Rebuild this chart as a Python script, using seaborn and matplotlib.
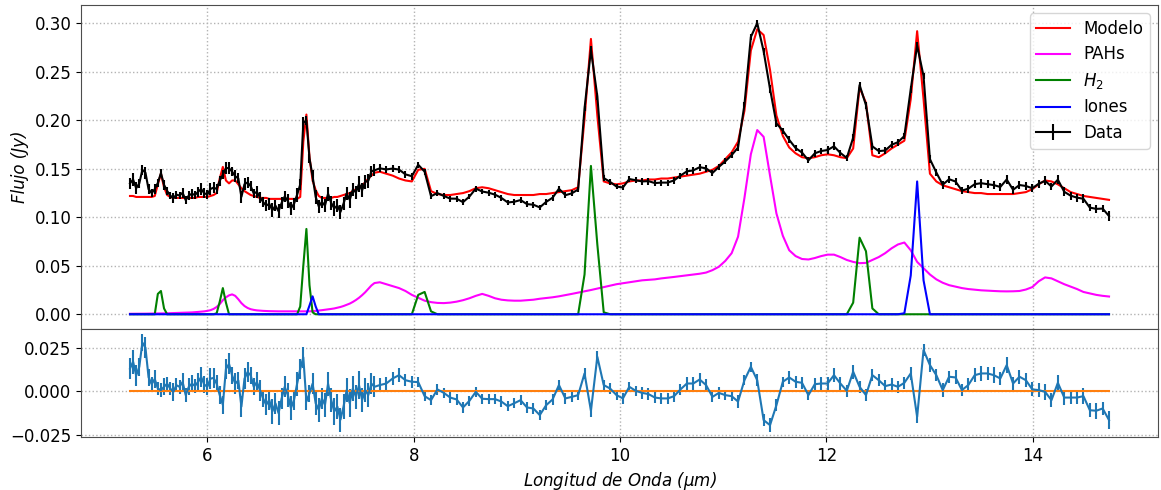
import numpy as np
import matplotlib
matplotlib.use("Agg")
import matplotlib.pyplot as plt
import seaborn as sns

# ---------------------------------------------------------------
# Spectrum: short-wavelength order (fine sampling) and long order
# ---------------------------------------------------------------
wave_sl2 = [
    5.25, 5.28, 5.31, 5.34, 5.37, 5.40, 5.43, 5.46, 5.49, 5.52,
    5.55, 5.58, 5.61, 5.64, 5.67, 5.70, 5.73, 5.76, 5.79, 5.82,
    5.85, 5.88, 5.91, 5.94, 5.97, 6.00, 6.03, 6.06, 6.09, 6.12,
    6.15, 6.18, 6.21, 6.24, 6.27, 6.30, 6.33, 6.36, 6.39, 6.42,
    6.45, 6.48, 6.51, 6.54, 6.57, 6.60, 6.63, 6.66, 6.69, 6.72,
    6.75, 6.78, 6.81, 6.84, 6.87, 6.90, 6.93, 6.96, 6.99, 7.02,
    7.05, 7.08, 7.11, 7.14, 7.17, 7.20, 7.23, 7.26, 7.29, 7.32,
    7.35, 7.38, 7.41, 7.44, 7.47, 7.50, 7.53, 7.56, 7.59, 7.62,
]
wave_sl1 = [
    7.672, 7.734, 7.796, 7.858, 7.920, 7.982, 8.044, 8.106, 8.168, 8.230,
    8.292, 8.354, 8.416, 8.478, 8.540, 8.602, 8.664, 8.726, 8.788, 8.850,
    8.912, 8.974, 9.036, 9.098, 9.160, 9.222, 9.284, 9.346, 9.408, 9.470,
    9.532, 9.594, 9.656, 9.718, 9.780, 9.842, 9.904, 9.966, 10.028, 10.090,
    10.152, 10.214, 10.276, 10.338, 10.400, 10.462, 10.524, 10.586, 10.648, 10.710,
    10.772, 10.834, 10.896, 10.958, 11.020, 11.082, 11.144, 11.206, 11.268, 11.330,
    11.392, 11.454, 11.516, 11.578, 11.640, 11.702, 11.764, 11.826, 11.888, 11.950,
    12.012, 12.074, 12.136, 12.198, 12.260, 12.322, 12.384, 12.446, 12.508, 12.570,
    12.632, 12.694, 12.756, 12.818, 12.880, 12.942, 13.004, 13.066, 13.128, 13.190,
    13.252, 13.314, 13.376, 13.438, 13.500, 13.562, 13.624, 13.686, 13.748, 13.810,
    13.872, 13.934, 13.996, 14.058, 14.120, 14.182, 14.244, 14.306, 14.368, 14.430,
    14.492, 14.554, 14.616, 14.678, 14.740,
]

# Best-fit model (Jy)
model_sl2 = [
    0.122, 0.122, 0.121, 0.121, 0.121, 0.121, 0.121, 0.121, 0.122, 0.134,
    0.145, 0.131, 0.123, 0.121, 0.120, 0.120, 0.120, 0.120, 0.120, 0.120,
    0.120, 0.120, 0.121, 0.121, 0.121, 0.121, 0.122, 0.123, 0.125, 0.140,
    0.152, 0.138, 0.135, 0.138, 0.138, 0.134, 0.130, 0.127, 0.125, 0.123,
    0.122, 0.121, 0.120, 0.120, 0.120, 0.119, 0.119, 0.119, 0.119, 0.119,
    0.119, 0.119, 0.119, 0.119, 0.119, 0.121, 0.178, 0.206, 0.162, 0.138,
    0.128, 0.122, 0.120, 0.120, 0.120, 0.120, 0.121, 0.121, 0.122, 0.123,
    0.124, 0.125, 0.127, 0.129, 0.131, 0.133, 0.136, 0.140, 0.143, 0.146,
]
model_sl1 = [
    0.147, 0.145, 0.143, 0.140, 0.138, 0.137, 0.149, 0.150, 0.127, 0.124,
    0.123, 0.123, 0.124, 0.125, 0.127, 0.130, 0.131, 0.130, 0.128, 0.126,
    0.124, 0.123, 0.123, 0.123, 0.123, 0.124, 0.124, 0.125, 0.126, 0.127,
    0.128, 0.131, 0.202, 0.284, 0.205, 0.137, 0.135, 0.134, 0.135, 0.137,
    0.138, 0.138, 0.139, 0.139, 0.140, 0.140, 0.141, 0.142, 0.143, 0.144,
    0.145, 0.147, 0.149, 0.153, 0.160, 0.167, 0.178, 0.210, 0.272, 0.294,
    0.288, 0.252, 0.205, 0.184, 0.172, 0.166, 0.162, 0.161, 0.162, 0.164,
    0.165, 0.164, 0.162, 0.161, 0.171, 0.234, 0.218, 0.164, 0.162, 0.166,
    0.171, 0.175, 0.179, 0.222, 0.292, 0.222, 0.145, 0.137, 0.133, 0.131,
    0.129, 0.127, 0.126, 0.125, 0.125, 0.124, 0.124, 0.124, 0.124, 0.124,
    0.125, 0.126, 0.129, 0.134, 0.138, 0.137, 0.134, 0.130, 0.126, 0.124,
    0.122, 0.121, 0.120, 0.119, 0.118,
]

# Fit residuals (data - model, Jy)
resid_sl2 = [
    0.013, 0.017, 0.009, 0.014, 0.028, 0.025, 0.008, 0.004, 0.007, 0.0015,
    0.0006, 0.0025, 0.0043, 0.0015, -0.0004, 0.0034, 0.0025, 0.0053, -0.0023, 0.0025,
    0.0043, 0.0030, 0.0053, 0.0081, 0.0038, 0.0025, 0.0072, 0.0076, 0.0043, -0.0023,
    -0.0079, 0.0128, 0.0157, 0.0091, 0.0043, 0.0062, -0.0089, 0.0072, 0.0110, 0.0091,
    0.0025, 0.0053, 0.0006, -0.0042, -0.0079, -0.0051, -0.0117, -0.0070, -0.0127, -0.0042,
    0.0025, -0.0023, -0.0098, -0.0051, 0.0043, 0.0128, 0.0195, -0.0060, -0.0013, 0.0043,
    -0.0070, -0.0108, -0.0042, -0.0079, 0.0043, -0.0051, -0.0117, -0.0089, -0.0165, -0.0089,
    0.0006, -0.0070, 0.0015, -0.0032, 0.0034, -0.0051, 0.0006, -0.0023, 0.0043, 0.0025,
]
resid_sl1 = [
    0.0035, 0.0044, 0.0073, 0.0092, 0.0063, 0.0054, 0.0052, -0.0029, -0.0052, 0.0010,
    -0.0010, -0.0037, -0.0048, -0.0094, -0.0056, -0.0004, -0.0044, -0.0046, -0.0046, -0.0060,
    -0.0087, -0.0070, -0.0052, -0.0094, -0.0100, -0.0138, -0.0081, -0.0048, 0.0035, -0.0042,
    -0.0033, -0.0023, 0.0102, -0.0113, 0.0198, 0.0035, 0.0015, -0.0023, -0.0042, 0.0025,
    0.0002, -0.0010, -0.0017, -0.0037, -0.0042, -0.0042, -0.0029, 0.0010, 0.0044, 0.0044,
    0.0067, 0.0035, -0.0033, -0.0010, -0.0023, -0.0029, -0.0060, 0.0063, 0.0140, 0.0063,
    -0.0167, -0.0196, -0.0081, 0.0054, 0.0079, 0.0054, 0.0048, -0.0023, 0.0040, 0.0044,
    0.0044, 0.0092, 0.0044, 0.0002, 0.0112, 0.0025, -0.0023, 0.0092, 0.0063, 0.0029,
    0.0038, 0.0025, 0.0048, 0.0102, -0.0148, 0.0237, 0.0150, 0.0092, 0.0006, 0.0083,
    0.0079, 0.0006, 0.0035, 0.0092, 0.0102, 0.0102, 0.0092, 0.0073, 0.0150, 0.0044,
    0.0083, 0.0063, 0.0010, 0.0006, -0.0004, -0.0052, 0.0048, -0.0037, -0.0037, -0.0037,
    -0.0029, -0.0110, -0.0113, -0.0100, -0.0167,
]

# 1-sigma flux uncertainties (Jy)
err_sl2 = [
    0.006, 0.007, 0.006, 0.005, 0.005, 0.006, 0.005, 0.004, 0.005, 0.004,
    0.004, 0.005, 0.004, 0.004, 0.005, 0.004, 0.004, 0.005, 0.004, 0.005,
    0.005, 0.004, 0.005, 0.006, 0.005, 0.005, 0.006, 0.006, 0.005, 0.005,
    0.005, 0.006, 0.006, 0.005, 0.006, 0.005, 0.006, 0.006, 0.006, 0.005,
    0.005, 0.006, 0.006, 0.005, 0.006, 0.006, 0.007, 0.006, 0.007, 0.006,
    0.006, 0.007, 0.007, 0.006, 0.007, 0.006, 0.006, 0.005, 0.005, 0.006,
    0.007, 0.007, 0.006, 0.007, 0.007, 0.007, 0.008, 0.007, 0.007, 0.007,
    0.007, 0.008, 0.007, 0.007, 0.008, 0.007, 0.007, 0.007, 0.006, 0.006,
]
err_sl1 = [
    0.0040, 0.0035, 0.0035, 0.0040, 0.0035, 0.0035, 0.0030, 0.0030, 0.0030, 0.0030,
    0.0030, 0.0030, 0.0030, 0.0030, 0.0030, 0.0030, 0.0030, 0.0030, 0.0030, 0.0030,
    0.0030, 0.0030, 0.0030, 0.0030, 0.0030, 0.0030, 0.0030, 0.0030, 0.0030, 0.0030,
    0.0030, 0.0030, 0.0030, 0.0035, 0.0035, 0.0030, 0.0030, 0.0030, 0.0030, 0.0030,
    0.0030, 0.0035, 0.0035, 0.0030, 0.0030, 0.0030, 0.0035, 0.0030, 0.0035, 0.0035,
    0.0035, 0.0035, 0.0030, 0.0035, 0.0030, 0.0030, 0.0035, 0.0030, 0.0030, 0.0035,
    0.0035, 0.0040, 0.0035, 0.0030, 0.0035, 0.0035, 0.0035, 0.0030, 0.0035, 0.0035,
    0.0040, 0.0040, 0.0035, 0.0035, 0.0040, 0.0035, 0.0035, 0.0035, 0.0035, 0.0035,
    0.0035, 0.0035, 0.0035, 0.0035, 0.0035, 0.0035, 0.0040, 0.0035, 0.0040, 0.0035,
    0.0040, 0.0035, 0.0040, 0.0040, 0.0045, 0.0040, 0.0045, 0.0040, 0.0045, 0.0040,
    0.0040, 0.0040, 0.0040, 0.0040, 0.0045, 0.0040, 0.0045, 0.0045, 0.0040, 0.0040,
    0.0045, 0.0040, 0.0045, 0.0040, 0.0050,
]

# PAH emission component (Jy)
pah_sl2 = [
    0.0005, 0.0005, 0.0005, 0.0006, 0.0006, 0.0006, 0.0007, 0.0007, 0.0008, 0.0008,
    0.0009, 0.0009, 0.0010, 0.0010, 0.0011, 0.0012, 0.0013, 0.0014, 0.0015, 0.0017,
    0.0019, 0.0021, 0.0024, 0.0027, 0.0030, 0.0035, 0.0042, 0.0055, 0.0075, 0.0105,
    0.0145, 0.0175, 0.0195, 0.0205, 0.0190, 0.0155, 0.0115, 0.0085, 0.0065, 0.0052,
    0.0045, 0.0040, 0.0037, 0.0035, 0.0033, 0.0032, 0.0031, 0.0030, 0.0030, 0.0030,
    0.0030, 0.0030, 0.0030, 0.0030, 0.0030, 0.0030, 0.0030, 0.0030, 0.0030, 0.0032,
    0.0035, 0.0038, 0.0042, 0.0046, 0.0050, 0.0055, 0.0060, 0.0067, 0.0075, 0.0085,
    0.0097, 0.0110, 0.0127, 0.0147, 0.0170, 0.0197, 0.0227, 0.0262, 0.0297, 0.0322,
]
pah_sl1 = [
    0.033, 0.031, 0.029, 0.027, 0.024, 0.020, 0.017, 0.014, 0.0125, 0.0117,
    0.0115, 0.012, 0.013, 0.0145, 0.0165, 0.019, 0.021, 0.019, 0.0165, 0.015,
    0.0143, 0.014, 0.014, 0.0145, 0.015, 0.016, 0.0167, 0.0175, 0.0185, 0.0197,
    0.021, 0.0223, 0.0235, 0.025, 0.0265, 0.028, 0.0295, 0.031, 0.032, 0.033,
    0.034, 0.035, 0.0355, 0.036, 0.037, 0.0377, 0.0385, 0.0393, 0.040, 0.041,
    0.0418, 0.043, 0.0455, 0.049, 0.055, 0.063, 0.080, 0.120, 0.165, 0.190,
    0.183, 0.143, 0.104, 0.081, 0.066, 0.060, 0.057, 0.0565, 0.058, 0.060,
    0.0615, 0.0615, 0.059, 0.056, 0.054, 0.0527, 0.053, 0.056, 0.059, 0.063,
    0.068, 0.072, 0.074, 0.066, 0.054, 0.0475, 0.041, 0.036, 0.0325, 0.030,
    0.0285, 0.027, 0.026, 0.0253, 0.0247, 0.0243, 0.024, 0.0237, 0.0236, 0.0237,
    0.024, 0.0255, 0.028, 0.034, 0.038, 0.037, 0.034, 0.031, 0.0285, 0.026,
    0.023, 0.0215, 0.020, 0.019, 0.0183,
]

# Unresolved lines: non-zero samples only (Jy)
h2_lines = {
    5.52: 0.021, 5.55: 0.024, 5.58: 0.006,
    6.09: 0.001, 6.12: 0.013, 6.15: 0.027, 6.18: 0.012,
    6.90: 0.008, 6.93: 0.050, 6.96: 0.088, 6.99: 0.030, 7.02: 0.002,
    8.044: 0.020, 8.106: 0.023, 8.168: 0.003,
    9.656: 0.041, 9.718: 0.153, 9.780: 0.072, 9.842: 0.002,
    12.260: 0.012, 12.322: 0.079, 12.384: 0.065, 12.446: 0.006,
}
ion_lines = {
    6.99: 0.009, 7.02: 0.0185, 7.05: 0.008,
    12.756: 0.001, 12.818: 0.040, 12.880: 0.137, 12.942: 0.035,
}

# ---------------------------------------------------------------
wave = np.array(wave_sl2 + wave_sl1)
model = np.array(model_sl2 + model_sl1)
resid = np.array(resid_sl2 + resid_sl1)
err = np.array(err_sl2 + err_sl1)
pah = np.array(pah_sl2 + pah_sl1)
h2 = np.array([h2_lines.get(w, 0.0) for w in wave])
ions = np.array([ion_lines.get(w, 0.0) for w in wave])
flux = model + resid
zero = np.zeros_like(wave)

plt.rcParams["font.size"] = 12

fig, (ax1, ax2) = plt.subplots(
    2, 1, sharex=True, figsize=(11.61, 4.9), dpi=100,
    gridspec_kw=dict(height_ratios=[3, 1], hspace=0.0),
)
fig.subplots_adjust(left=0.0698, right=0.9974, top=0.9898, bottom=0.1082)

sns.lineplot(x=wave, y=model, ax=ax1, color="red", label="Modelo", linewidth=1.5)
sns.lineplot(x=wave, y=pah, ax=ax1, color="magenta", label="PAHs", linewidth=1.5)
sns.lineplot(x=wave, y=h2, ax=ax1, color="green", label=r"$H_2$", linewidth=1.5)
sns.lineplot(x=wave, y=ions, ax=ax1, color="blue", label="Iones", linewidth=1.5)
ax1.errorbar(wave, flux, yerr=err, color="black", linewidth=1.5, label="Data")

ax1.set_ylabel("Flujo (Jy)", style="italic")
ax1.grid(True, linestyle=":", color="0.7", linewidth=1)
ax1.legend(loc="upper right", labelspacing=0.45)

ax2.errorbar(wave, resid, yerr=err, color="C0", linewidth=1.5)
sns.lineplot(x=wave, y=zero, ax=ax2, color="C1", linewidth=1.5)
ax2.set_yticks([-0.025, 0.0, 0.025])
ax2.grid(True, linestyle=":", color="0.7", linewidth=1)
ax2.set_xlabel(r"Longitud de Onda ($\mu m$)", style="italic")

for ax in (ax1, ax2):
    for spine in ax.spines.values():
        spine.set_color("0.3")

fig.savefig("out.png", dpi=100)
